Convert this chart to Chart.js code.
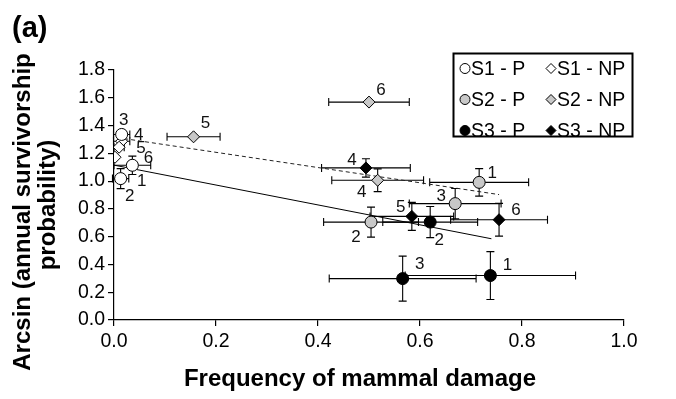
<!DOCTYPE html>
<html><head><meta charset="utf-8">
<style>html,body{margin:0;padding:0;background:#fff}canvas{display:block}</style>
<script src="https://cdn.jsdelivr.net/npm/chart.js@4.4.0/dist/chart.umd.min.js"></script>
</head><body>
<canvas id="c" width="676" height="399"></canvas>
<script>
// ---- tick labels ----
const xTickLabels = ['0.0', '0.2', '0.4', '0.6', '0.8', '1.0'];
const yTickLabels = ['0.0', '0.2', '0.4', '0.6', '0.8', '1.0', '1.2', '1.4', '1.6', '1.8'];

// ---- series (x = frequency of mammal damage, y = arcsin survivorship) ----
const s1pX = [0.015, 0.036, 0.013];
const s1pY = [1.336, 1.114, 1.018];
const s1pXErr = [0.016, 0.036, 0.016];
const s1pYErr = [0, 0.066, 0.072];
const s1pLabels = [['3'], ['6'], ['1', '2']];

const s1npX = [0.015, 0.010, 0.002];
const s1npY = [1.287, 1.244, 1.172];
const s1npXErr = [0.016, 0.010, 0];
const s1npYErr = [0, 0, 0];
const s1npLabels = [['4'], ['5'], []];

const s2pX = [0.716, 0.504, 0.669];
const s2pY = [0.991, 0.705, 0.838];
const s2pXErr = [0.097, 0.093, 0.090];
const s2pYErr = [0.099, 0.108, 0.109];
const s2pLabels = [['1'], ['2'], ['3']];

const s2npX = [0.517, 0.156, 0.500];
const s2npY = [1.006, 1.319, 1.569];
const s2npXErr = [0.090, 0.052, 0.079];
const s2npYErr = [0.082, 0, 0];
const s2npLabels = [['4'], ['5'], ['6']];

const s3pX = [0.738, 0.620, 0.566];
const s3pY = [0.320, 0.705, 0.298];
const s3pXErr = [0.167, 0.093, 0.144];
const s3pYErr = [0.172, 0.112, 0.162];
const s3pLabels = [['1'], ['2'], ['3']];

const s3npX = [0.494, 0.584, 0.755];
const s3npY = [1.095, 0.746, 0.722];
const s3npXErr = [0.087, 0.082, 0.095];
const s3npYErr = [0.066, 0.101, 0.118];
const s3npLabels = [['4'], ['5'], ['6']];

// regression lines (P = solid, NP = dashed)
const solidLineX = [0, 0.74];
const solidLineY = [1.115, 0.585];
const dashedLineX = [0.02, 0.755];
const dashedLineY = [1.306, 0.903];

// ---- label placement (pixel offsets from the point) ----
const s1pLabelOff = [[[2, -14]], [[16, -7]], [[21, 3], [9, 18]]];
const s1npLabelOff = [[[17, -6]], [[22, 1]], []];
const s2pLabelOff = [[[13, -9]], [[-15, 15]], [[-14, -7]]];
const s2npLabelOff = [[[-16, 12]], [[12, -13]], [[12, -12]]];
const s3pLabelOff = [[[17, -10]], [[9, 18]], [[17, -14]]];
const s3npLabelOff = [[[-14, -8]], [[-11, -9]], [[17, -9]]];

const FONT = '"Liberation Sans", Arial, Helvetica, sans-serif';
const GREY = '#c8c8c8';

function pts(xs, ys) { return xs.map((x, i) => ({x: x, y: ys[i]})); }

function scatterSet(label, xs, ys, xe, ye, labels, offs, style, fill) {
  return {
    type: 'scatter', label: label, data: pts(xs, ys),
    xErr: xe, yErr: ye, pointLabels: labels, pointLabelOffsets: offs,
    pointStyle: style, pointRadius: 6, pointHoverRadius: 6,
    backgroundColor: fill, borderColor: '#000', borderWidth: 1, order: 0
  };
}

const datasets = [
  scatterSet('S1 - P', s1pX, s1pY, s1pXErr, s1pYErr, s1pLabels, s1pLabelOff, 'circle', '#ffffff'),
  scatterSet('S1 - NP', s1npX, s1npY, s1npXErr, s1npYErr, s1npLabels, s1npLabelOff, 'rectRot', '#ffffff'),
  scatterSet('S2 - P', s2pX, s2pY, s2pXErr, s2pYErr, s2pLabels, s2pLabelOff, 'circle', GREY),
  scatterSet('S2 - NP', s2npX, s2npY, s2npXErr, s2npYErr, s2npLabels, s2npLabelOff, 'rectRot', GREY),
  scatterSet('S3 - P', s3pX, s3pY, s3pXErr, s3pYErr, s3pLabels, s3pLabelOff, 'circle', '#000000'),
  scatterSet('S3 - NP', s3npX, s3npY, s3npXErr, s3npYErr, s3npLabels, s3npLabelOff, 'rectRot', '#000000'),
  { type: 'line', label: 'P fit', data: pts(solidLineX, solidLineY), borderColor: '#000',
    borderWidth: 1, pointRadius: 0, fill: false, order: 10, isFit: true },
  { type: 'line', label: 'NP fit', data: pts(dashedLineX, dashedLineY), borderColor: '#222',
    borderWidth: 1, borderDash: [4, 3], pointRadius: 0, fill: false, order: 10, isFit: true }
];

const errorBarPlugin = {
  id: 'errorBars',
  beforeDatasetsDraw(chart) {
    const ctx = chart.ctx, xs = chart.scales.x, ys = chart.scales.y;
    ctx.save();
    ctx.strokeStyle = '#000';
    ctx.lineWidth = 1.1;
    const cap = 4;
    chart.data.datasets.forEach(ds => {
      if (!ds.xErr) return;
      ds.data.forEach((p, i) => {
        const px = xs.getPixelForValue(p.x), py = ys.getPixelForValue(p.y);
        const ex = ds.xErr[i], ey = ds.yErr[i];
        ctx.beginPath();
        if (ex) {
          const l = xs.getPixelForValue(p.x - ex), r = xs.getPixelForValue(p.x + ex);
          ctx.moveTo(l, py); ctx.lineTo(r, py);
          ctx.moveTo(l, py - cap); ctx.lineTo(l, py + cap);
          ctx.moveTo(r, py - cap); ctx.lineTo(r, py + cap);
        }
        if (ey) {
          const t = ys.getPixelForValue(p.y + ey), b = ys.getPixelForValue(p.y - ey);
          ctx.moveTo(px, t); ctx.lineTo(px, b);
          ctx.moveTo(px - cap, t); ctx.lineTo(px + cap, t);
          ctx.moveTo(px - cap, b); ctx.lineTo(px + cap, b);
        }
        ctx.stroke();
      });
    });
    ctx.restore();
  }
};

const pointLabelPlugin = {
  id: 'pointLabels',
  afterDatasetsDraw(chart) {
    const ctx = chart.ctx, xs = chart.scales.x, ys = chart.scales.y;
    ctx.save();
    ctx.fillStyle = '#111';
    ctx.font = '17px ' + FONT;
    ctx.textAlign = 'center';
    ctx.textBaseline = 'middle';
    chart.data.datasets.forEach(ds => {
      if (!ds.pointLabels) return;
      ds.data.forEach((p, i) => {
        const px = xs.getPixelForValue(p.x), py = ys.getPixelForValue(p.y);
        (ds.pointLabels[i] || []).forEach((t, k) => {
          const o = ds.pointLabelOffsets[i][k];
          ctx.fillText(t, px + o[0], py + o[1]);
        });
      });
    });
    ctx.restore();
  }
};

function marker(ctx, style, x, y, r, fill) {
  ctx.beginPath();
  if (style === 'circle') {
    ctx.arc(x, y, r, 0, Math.PI * 2);
  } else {
    ctx.moveTo(x, y - r); ctx.lineTo(x + r, y); ctx.lineTo(x, y + r); ctx.lineTo(x - r, y); ctx.closePath();
  }
  ctx.fillStyle = fill; ctx.fill();
  ctx.strokeStyle = '#000'; ctx.lineWidth = 1; ctx.stroke();
}

const decorPlugin = {
  id: 'decor',
  afterDraw(chart) {
    const ctx = chart.ctx;
    ctx.save();
    // legend box
    ctx.strokeStyle = '#000';
    ctx.lineWidth = 2;
    ctx.strokeRect(453.5, 53.5, 179, 83);
    const items = chart.data.datasets.filter(d => !d.isFit);
    ctx.font = '19.5px ' + FONT;
    ctx.textAlign = 'left';
    ctx.textBaseline = 'middle';
    items.forEach((d, i) => {
      const row = Math.floor(i / 2), col = i % 2;
      const y = 68.5 + row * 31;
      const mx = col === 0 ? 465 : 551;
      marker(ctx, d.pointStyle, mx, y, 5, d.backgroundColor);
      ctx.fillStyle = '#000';
      ctx.fillText(d.label, mx + 6, y + 1);
    });
    // panel tag
    ctx.fillStyle = '#000';
    ctx.font = 'bold 29px ' + FONT;
    ctx.textBaseline = 'alphabetic';
    ctx.fillText('(a)', 12, 37);
    // axis titles
    ctx.font = 'bold 24px ' + FONT;
    ctx.textAlign = 'center';
    ctx.fillText('Frequency of mammal damage', 360, 386);
    ctx.textBaseline = 'middle';
    [['Arcsin (annual survivorship', 23, 212], ['probability)', 48, 205]].forEach(a => {
      ctx.save();
      ctx.translate(a[1], a[2]);
      ctx.rotate(-Math.PI / 2);
      ctx.fillText(a[0], 0, 0);
      ctx.restore();
    });
    ctx.restore();
  }
};

new Chart(document.getElementById('c'), {
  data: { datasets: datasets },
  options: {
    responsive: false,
    animation: false,
    layout: { padding: { left: 0, right: 52, top: 70, bottom: 0 } },
    plugins: { legend: { display: false }, tooltip: { enabled: false }, title: { display: false } },
    scales: {
      x: {
        type: 'linear', min: 0, max: 1,
        afterFit(s) { s.height = 79; },
        grid: { display: true, drawOnChartArea: false, drawTicks: true, tickLength: 6, color: '#000', lineWidth: 1.2 },
        border: { display: true, color: '#000', width: 1.2 },
        ticks: { stepSize: 0.2, autoSkip: false, maxRotation: 0, padding: 4, color: '#000',
                 font: { size: 19.5, family: FONT }, callback: (v, i) => xTickLabels[i] }
      },
      y: {
        type: 'linear', min: 0, max: 1.8,
        afterFit(s) { s.width = 114; },
        grid: { display: true, drawOnChartArea: false, drawTicks: true, tickLength: 6, color: '#000', lineWidth: 1.2 },
        border: { display: true, color: '#000', width: 1.2 },
        ticks: { stepSize: 0.2, autoSkip: false, padding: 3, color: '#000',
                 font: { size: 19.5, family: FONT }, callback: (v, i) => yTickLabels[i] }
      }
    }
  },
  plugins: [errorBarPlugin, pointLabelPlugin, decorPlugin]
});
</script>
</body></html>
